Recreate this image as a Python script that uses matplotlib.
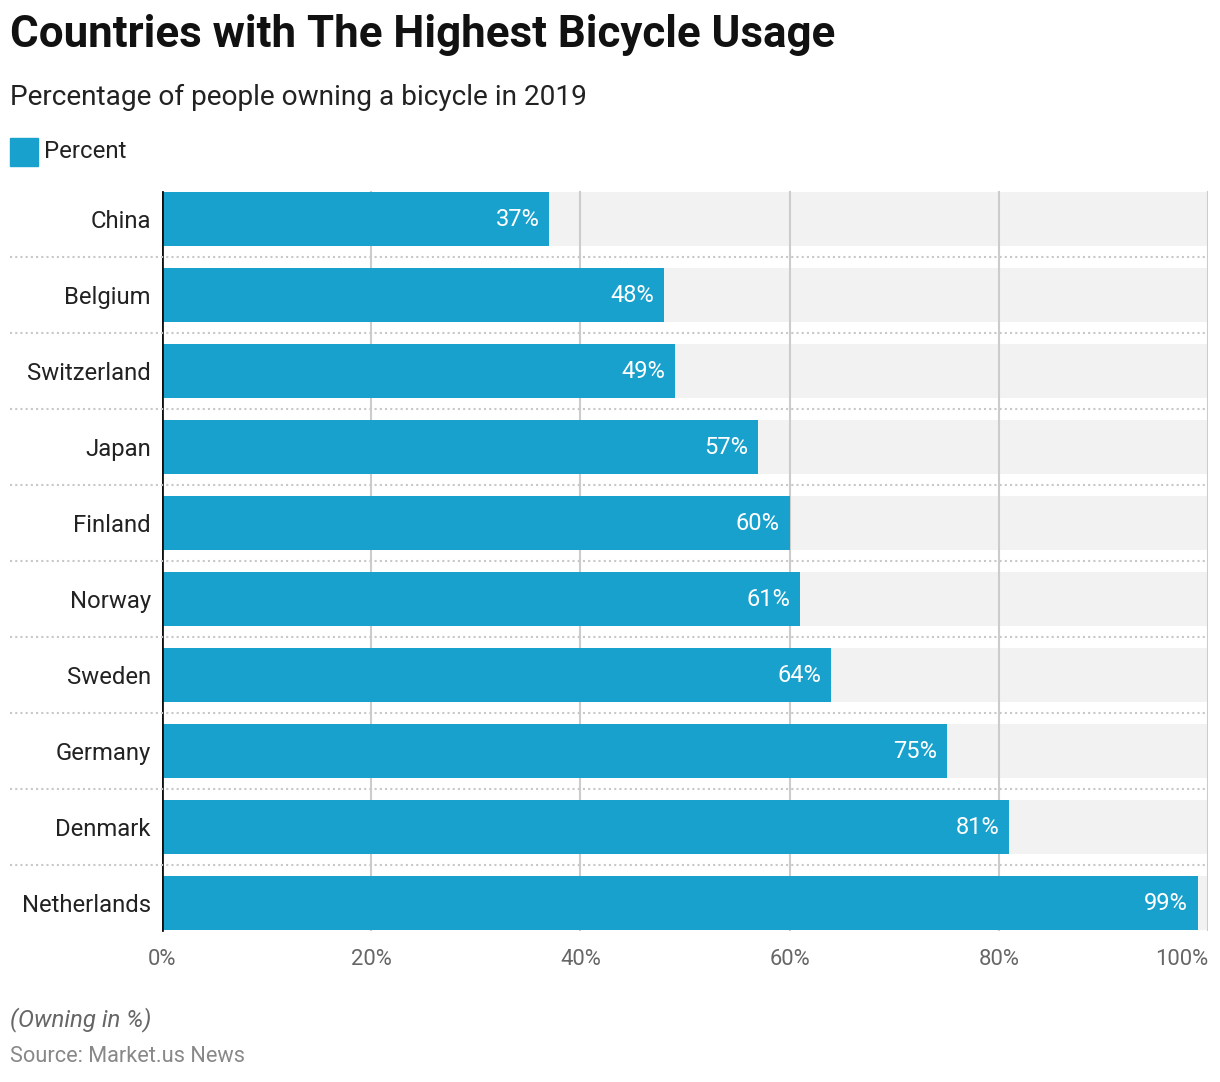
import matplotlib
matplotlib.use("Agg")
import matplotlib.pyplot as plt
from matplotlib.lines import Line2D
from matplotlib.patches import Rectangle
from matplotlib.transforms import blended_transform_factory

plt.rcParams['font.family'] = ['Roboto', 'DejaVu Sans']

countries = ["China", "Belgium", "Switzerland", "Japan", "Finland", "Norway",
             "Sweden", "Germany", "Denmark", "Netherlands"]
values = [37, 48, 49, 57, 60, 61, 64, 75, 81, 99]
xticks = [0, 20, 40, 60, 80, 100]
xtick_labels = ["0%", "20%", "40%", "60%", "80%", "100%"]

W, H = 1220, 1082
fig = plt.figure(figsize=(W / 100, H / 100), dpi=100)
# axes: x 162..1208 px, y 181..941 px
ax = fig.add_axes([162 / W, 1 - 941 / H, (1208 - 162) / W, 760 / H])

bar_color = "#19a1cd"
band_color = "#f2f2f2"
half = 27 / 76

n = len(countries)
ypos = list(range(n))
ax.barh(ypos, [100] * n, height=2 * half, color=band_color, zorder=0)
for x in xticks[1:]:
    ax.plot([x, x], [-half, n - 1 + half], color="#cccccc", lw=1.5, zorder=1)
ax.barh(ypos, values, height=2 * half, color=bar_color, zorder=2)
ax.plot([0, 0], [-half, n - 1 + half], color="#111111", lw=2, zorder=3)

for y, v in zip(ypos, values):
    ax.annotate(f"{v}%", xy=(v, y), xytext=(-7, 0), textcoords="offset points",
                ha="right", va="center", color="white", fontsize=17, zorder=4)

ax.set_xlim(0, 100)
ax.set_ylim(n - 0.5, -0.5)
for s in ax.spines.values():
    s.set_visible(False)
ax.set_yticks(ypos)
ax.set_yticklabels(countries, fontsize=17.2, color="#222222")
ax.set_xticks(xticks)
ax.set_xticklabels(xtick_labels, fontsize=15.8, color="#666666")
ax.tick_params(axis="both", length=0)
ax.tick_params(axis="y", pad=8)
ax.tick_params(axis="x", pad=6)
ax.get_xticklabels()[-1].set_ha("right")

# dotted separators
trans = blended_transform_factory(fig.transFigure, ax.transData)
for i in range(n - 1):
    fig.add_artist(Line2D([10 / W, 1208 / W], [i + 0.5, i + 0.5], transform=trans,
                          color="#c8c8c8", lw=1.5, linestyle=(0, (1, 1.5))))

# titles
fig.text(10 / W, 1 - 35 / H, "Countries with The Highest Bicycle Usage",
         fontsize=31.6, fontweight="bold", color="#111111", va="center", ha="left")
fig.text(10 / W, 1 - 97 / H, "Percentage of people owning a bicycle in 2019",
         fontsize=20.2, color="#222222", va="center", ha="left")

# legend
fig.add_artist(Rectangle((10 / W, 1 - 166 / H), 28 / W, 28 / H,
                         transform=fig.transFigure, color=bar_color))
fig.text(44 / W, 1 - 151 / H, "Percent", fontsize=17.3, color="#222222",
         va="center", ha="left")

# footer
fig.text(10 / W, 1 - 1020 / H, "(Owning in %)", fontsize=17.3, style="italic",
         color="#666666", va="center", ha="left")
fig.text(10 / W, 1 - 1056 / H, "Source: Market.us News", fontsize=15.7,
         color="#888888", va="center", ha="left")

fig.savefig("out.png", dpi=100)
